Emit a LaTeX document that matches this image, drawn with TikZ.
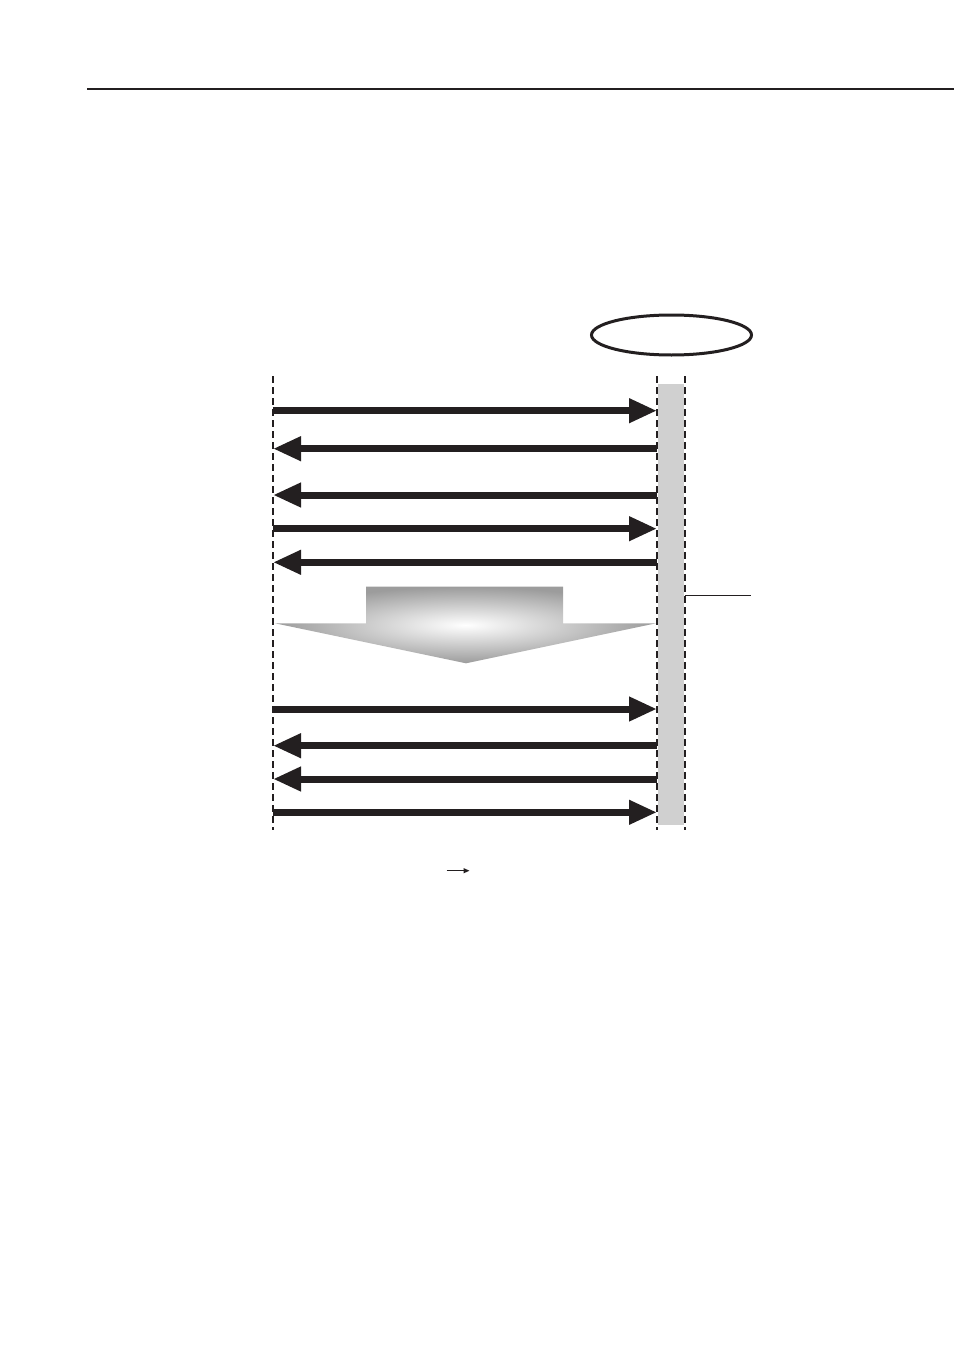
\documentclass[tikz,border=0pt]{standalone}
\usetikzlibrary{arrows.meta,shapes.geometric}
\definecolor{ink}{HTML}{231F20}
\definecolor{barfill}{HTML}{D0D0D0}
\tikzset{
  lifeline/.style={ink, line width=2.9pt, dash pattern=on 6.5pt off 4.5pt},
  msg/.style={ink, line width=7pt, -{Triangle[length=28pt,width=23pt]}},
}
\begin{document}
\begin{tikzpicture}[x=1pt,y=-1pt]
\useasboundingbox (0,0) rectangle (954,1351);
% top rule
\coordinate (ruleL) at (87,89);
\coordinate (ruleR) at (954,89);
\draw[ink, line width=2.2pt] (ruleL) -- (ruleR);
% ellipse
\node (ell) [draw=ink, line width=3pt, ellipse, minimum width=160pt, minimum height=40pt, inner sep=0pt] at (671.5,335) {};
% activation bar
\node (bar) [fill=barfill, minimum width=26pt, minimum height=441pt, inner sep=0pt, anchor=north west] at (658,384) {};
% lifelines
\coordinate (LT) at (273,376); \coordinate (LB) at (273,830);
\coordinate (R1T) at (657,376); \coordinate (R1B) at (657,830);
\coordinate (R2T) at (685,376); \coordinate (R2B) at (685,830);
\draw[lifeline] (LT) -- (LB);
\draw[lifeline] (R1T) -- (R1B);
\draw[lifeline] (R2T) -- (R2B);
% messages
\foreach \y/\d [count=\i] in {410.7/r,448.7/l,495/l,528.7/r,562.3/l,709/r,745.7/l,779/l,812.3/r}{
  \coordinate (a\i) at (273,\y);
  \coordinate (b\i) at (657,\y);
  \if r\d
    \draw[msg] (a\i) -- (b\i);
  \else
    \draw[msg] (b\i) -- (a\i);
  \fi
}
% big shaded arrow
\shade[inner color=white, outer color=gray!78]
  (366,586.7) -- (563,586.7) -- (563,623.3) -- (656,623.3) -- (466,663.3)
  -- (275,623.3) -- (366,623.3) -- cycle;
% callout line
\coordinate (cA) at (685,595.7);
\coordinate (cB) at (751,595.7);
\draw[ink, line width=1.4pt] (cA) -- (cB);
% small arrow
\coordinate (sA) at (446.7,870.7);
\coordinate (sB) at (469.5,870.7);
\draw[ink, line width=1.1pt, -{Triangle[length=6pt,width=5pt]}] (sA) -- (sB);
\end{tikzpicture}
\end{document}
